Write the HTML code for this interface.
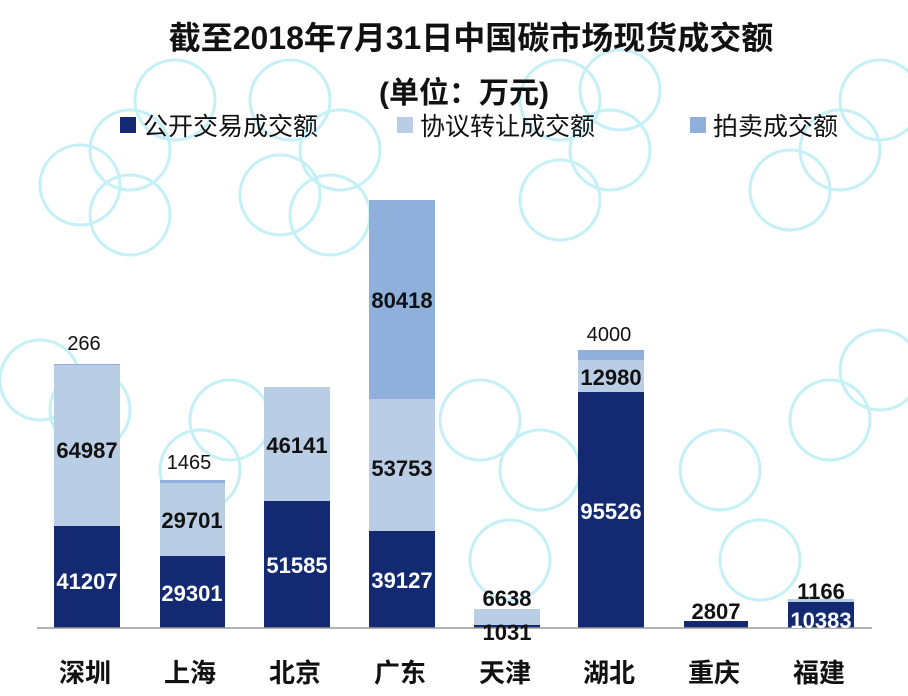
<!DOCTYPE html>
<html><head><meta charset="utf-8"><style>
body{margin:0;background:#fff;}
svg{display:block;font-family:"Liberation Sans","Noto Sans CJK SC",sans-serif;}
.c{fill:none;stroke:#c4f0f6;stroke-width:3}
.w{fill:#fff;font-weight:bold;font-size:22px;text-anchor:middle}
.b{fill:#111;font-weight:bold;font-size:22px;text-anchor:middle}
.n{fill:#111;font-size:20px;text-anchor:middle}
.x{fill:#111;font-weight:bold;font-size:26px;text-anchor:middle}
</style></head><body>
<svg width="908" height="696" viewBox="0 0 908 696">
<rect width="908" height="696" fill="#fff"/>
<g>
<circle class="c" cx="80" cy="185" r="40"/><circle class="c" cx="130" cy="150" r="40"/><circle class="c" cx="175" cy="100" r="40"/><circle class="c" cx="130" cy="215" r="40"/>
<circle class="c" cx="290" cy="100" r="40"/><circle class="c" cx="340" cy="150" r="40"/><circle class="c" cx="330" cy="215" r="40"/><circle class="c" cx="280" cy="195" r="40"/>
<circle class="c" cx="560" cy="100" r="40"/><circle class="c" cx="610" cy="150" r="40"/><circle class="c" cx="560" cy="200" r="40"/><circle class="c" cx="620" cy="90" r="40"/>
<circle class="c" cx="790" cy="190" r="40"/><circle class="c" cx="840" cy="150" r="40"/><circle class="c" cx="880" cy="100" r="40"/>
<circle class="c" cx="40" cy="380" r="40"/><circle class="c" cx="90" cy="410" r="40"/><circle class="c" cx="880" cy="370" r="40"/><circle class="c" cx="830" cy="420" r="40"/>
<circle class="c" cx="480" cy="420" r="40"/><circle class="c" cx="540" cy="470" r="40"/><circle class="c" cx="510" cy="560" r="40"/>
<circle class="c" cx="230" cy="420" r="40"/><circle class="c" cx="200" cy="470" r="40"/><circle class="c" cx="720" cy="470" r="40"/><circle class="c" cx="760" cy="560" r="40"/>
</g>
<text x="471" y="49" text-anchor="middle" font-size="32" font-weight="bold" fill="#111">截至2018年7月31日中国碳市场现货成交额</text>
<text x="464" y="103" text-anchor="middle" font-size="30" font-weight="bold" fill="#111">(单位：万元)</text>
<rect x="120" y="117" width="16" height="16" fill="#132a73"/><text x="143" y="135" font-size="25" fill="#111">公开交易成交额</text>
<rect x="397" y="117" width="16" height="16" fill="#b9cde5"/><text x="420" y="135" font-size="25" fill="#111">协议转让成交额</text>
<rect x="690" y="117" width="16" height="16" fill="#8eb0da"/><text x="713" y="135" font-size="25" fill="#111">拍卖成交额</text>
<g>
<rect x="54" y="526" width="66" height="102" fill="#132a73"/><rect x="54" y="365" width="66" height="161" fill="#b9cde5"/><rect x="54" y="364" width="66" height="1" fill="#8eb0da"/>
<rect x="160" y="556" width="65" height="72" fill="#132a73"/><rect x="160" y="483" width="65" height="73" fill="#b9cde5"/><rect x="160" y="480" width="65" height="3" fill="#8eb0da"/>
<rect x="264" y="501" width="66" height="127" fill="#132a73"/><rect x="264" y="387" width="66" height="114" fill="#b9cde5"/>
<rect x="369" y="531" width="66" height="97" fill="#132a73"/><rect x="369" y="399" width="66" height="132" fill="#b9cde5"/><rect x="369" y="200" width="66" height="199" fill="#8eb0da"/>
<rect x="474" y="625" width="66" height="3" fill="#132a73"/><rect x="474" y="609" width="66" height="16" fill="#b9cde5"/>
<rect x="578" y="392" width="66" height="236" fill="#132a73"/><rect x="578" y="360" width="66" height="32" fill="#b9cde5"/><rect x="578" y="350" width="66" height="10" fill="#8eb0da"/>
<rect x="684" y="621" width="64" height="7" fill="#132a73"/>
<rect x="788" y="602" width="66" height="26" fill="#132a73"/><rect x="788" y="599" width="66" height="3" fill="#b9cde5"/>
</g>
<line x1="37" y1="628" x2="872" y2="628" stroke="#999" stroke-width="1.5"/>
<text class="w" x="87" y="589">41207</text><text class="b" x="87" y="458">64987</text><text class="n" x="84" y="350">266</text>
<text class="w" x="192" y="601">29301</text><text class="b" x="192" y="528">29701</text><text class="n" x="189" y="469">1465</text>
<text class="w" x="297" y="573">51585</text><text class="b" x="297" y="453">46141</text>
<text class="w" x="402" y="588">39127</text><text class="b" x="402" y="476">53753</text><text class="b" x="402" y="308">80418</text>
<text class="b" x="507" y="640">1031</text><text class="b" x="507" y="606">6638</text>
<text class="w" x="611" y="519">95526</text><text class="b" x="611" y="385">12980</text><text class="n" x="609" y="341">4000</text>
<text class="b" x="716" y="619">2807</text>
<text class="w" x="821" y="628">10383</text><text class="b" x="821" y="599">1166</text>
<text class="x" x="85" y="682">深圳</text><text class="x" x="190" y="682">上海</text><text class="x" x="295" y="682">北京</text><text class="x" x="400" y="682">广东</text>
<text class="x" x="505" y="682">天津</text><text class="x" x="609" y="682">湖北</text><text class="x" x="714" y="682">重庆</text><text class="x" x="819" y="682">福建</text>
</svg>
</body></html>
